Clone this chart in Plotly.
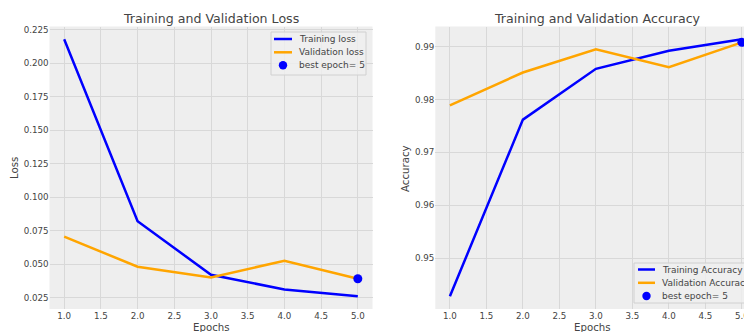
import plotly.graph_objects as go

epochs = [1, 2, 3, 4, 5]
train_loss = [0.218, 0.082, 0.042, 0.031, 0.026]
val_loss = [0.0705, 0.048, 0.040, 0.0525, 0.039]
train_acc = [0.9428, 0.9762, 0.9858, 0.9892, 0.9914]
val_acc = [0.9789, 0.9851, 0.9895, 0.9861, 0.9908]
best_loss_epoch = 5
best_loss = 0.039
best_acc_epoch = 5
best_acc = 0.9908

loss_ticks = [0.025, 0.050, 0.075, 0.100, 0.125, 0.150, 0.175, 0.200, 0.225]
acc_ticks = [0.95, 0.96, 0.97, 0.98, 0.99]
x_ticks = [1.0, 1.5, 2.0, 2.5, 3.0, 3.5, 4.0, 4.5, 5.0]

loss_legend = ["Training loss", "Validation loss", "best epoch= 5"]
acc_legend = ["Training Accuracy", "Validation Accuracy", "best epoch= 5"]

W, H = 744, 332
FONT = "DejaVu Sans"
TXT = "#444444"
GRID = "#d8d8d8"
BG = "#eeeeee"
BLUE = "#0000ff"
ORANGE = "#ffa500"

def px(x):
    return x / W

def py(y):
    return 1 - y / H

fig = go.Figure()
fig.add_trace(go.Scatter(x=epochs, y=train_loss, mode="lines", name=loss_legend[0],
                         line=dict(color=BLUE, width=2.5), xaxis="x", yaxis="y"))
fig.add_trace(go.Scatter(x=epochs, y=val_loss, mode="lines", name=loss_legend[1],
                         line=dict(color=ORANGE, width=2.5), xaxis="x", yaxis="y"))
fig.add_trace(go.Scatter(x=[best_loss_epoch], y=[best_loss], mode="markers", name=loss_legend[2],
                         marker=dict(color=BLUE, size=9), xaxis="x", yaxis="y", cliponaxis=False))
fig.add_trace(go.Scatter(x=epochs, y=train_acc, mode="lines", name=acc_legend[0],
                         line=dict(color=BLUE, width=2.5), xaxis="x2", yaxis="y2"))
fig.add_trace(go.Scatter(x=epochs, y=val_acc, mode="lines", name=acc_legend[1],
                         line=dict(color=ORANGE, width=2.5), xaxis="x2", yaxis="y2"))
fig.add_trace(go.Scatter(x=[best_acc_epoch], y=[best_acc], mode="markers", name=acc_legend[2],
                         marker=dict(color=BLUE, size=9), xaxis="x2", yaxis="y2", cliponaxis=False))

common_x = dict(tickvals=x_ticks, tickformat=".1f", showgrid=True, gridcolor=GRID, gridwidth=1.2,
                zeroline=False, showline=False, ticks="", automargin=False,
                ticklabeloverflow="allow",
                tickfont=dict(family=FONT, size=8.7, color=TXT))
common_y = dict(showgrid=True, gridcolor=GRID, gridwidth=1.2, zeroline=False, showline=False,
                ticks="", automargin=False, tickfont=dict(family=FONT, size=8.7, color=TXT))

shapes = []
annotations = []

def add_legend(box, rows, line_x, marker_x, text_x, labels):
    x0, y0, x1, y1 = box
    shapes.append(dict(type="rect", xref="paper", yref="paper", x0=px(x0), x1=px(x1),
                       y0=py(y1), y1=py(y0), fillcolor="rgba(238,238,238,0.85)",
                       line=dict(color="#d0d0d0", width=1), layer="above"))
    colors = [BLUE, ORANGE]
    for i in range(2):
        shapes.append(dict(type="line", xref="paper", yref="paper", x0=px(line_x[0]), x1=px(line_x[1]),
                           y0=py(rows[i]), y1=py(rows[i]), line=dict(color=colors[i], width=2.5),
                           layer="above"))
    r = 4.2
    shapes.append(dict(type="circle", xref="paper", yref="paper", x0=px(marker_x - r), x1=px(marker_x + r),
                       y0=py(rows[2] + r), y1=py(rows[2] - r), fillcolor=BLUE, line=dict(width=0),
                       layer="above"))
    for i, lab in enumerate(labels):
        annotations.append(dict(text=lab, x=px(text_x), y=py(rows[i]), xref="paper", yref="paper",
                                showarrow=False, xanchor="left", yanchor="middle",
                                font=dict(family=FONT, size=9, color=TXT)))

add_legend((271, 32, 366, 75), [39, 52.3, 65.3], (274, 292), 283, 297, loss_legend)
add_legend((634, 263, 760, 303), [269.5, 282.8, 296], (638, 655), 646.5, 660, acc_legend)

def label(text, x, y, size, angle=0):
    annotations.append(dict(text=text, x=px(x), y=py(y), xref="paper", yref="paper", textangle=angle,
                            showarrow=False, xanchor="center", yanchor="middle",
                            font=dict(family=FONT, size=size, color=TXT)))

label("Training and Validation Loss", 211, 18.5, 12.6)
label("Training and Validation Accuracy", 597, 18.5, 12.6)
label("Epochs", 211, 327, 10.2)
label("Epochs", 592, 327, 10.2)
label("Loss", 14, 168, 10.2, -90)
label("Accuracy", 405, 168, 10.2, -90)

ytop, ybot = 26.5, 309
fig.update_layout(
    width=W, height=H,
    margin=dict(l=0, r=0, t=0, b=0),
    paper_bgcolor="white", plot_bgcolor=BG,
    showlegend=False,
    xaxis=dict(domain=[px(49.5), px(372.5)], range=[0.8, 5.2], anchor="y", **common_x),
    yaxis=dict(domain=[py(ybot), py(ytop)], range=[0.0164, 0.2276], tickvals=loss_ticks,
               tickformat=".3f", anchor="x", **common_y),
    xaxis2=dict(domain=[px(435.3), 1.0], range=[0.8, 0.8 + (744 - 435.3) / 73.0], anchor="y2", **common_x),
    yaxis2=dict(domain=[py(ybot), py(ytop)], range=[0.9404, 0.9938], tickvals=acc_ticks,
                tickformat=".2f", anchor="x2", **common_y),
    shapes=shapes,
    annotations=annotations,
)

fig.write_html("out.html")
